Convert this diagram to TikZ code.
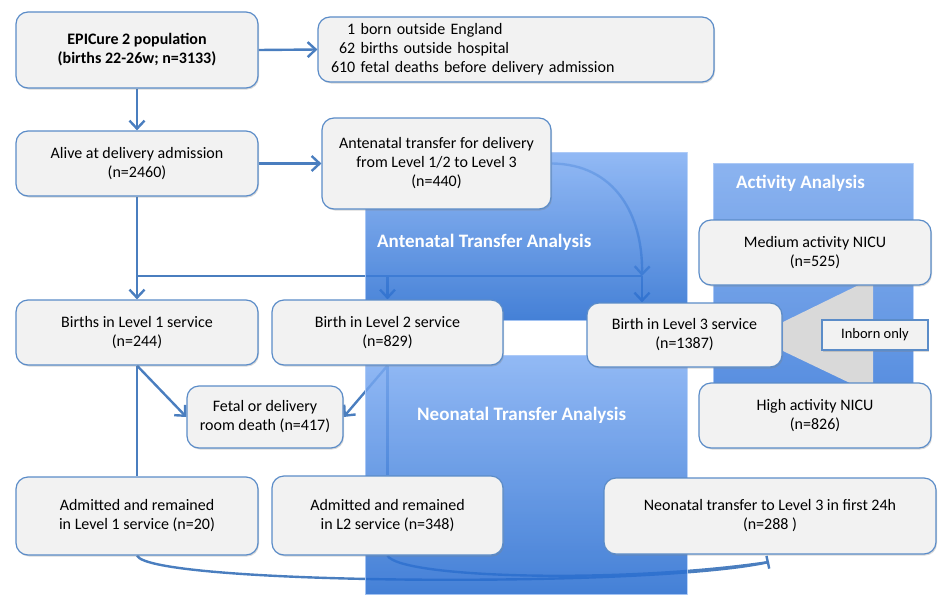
\documentclass[tikz,border=0pt]{standalone}
\usepackage{fontspec}
\setmainfont{Carlito}
\usetikzlibrary{arrows.meta,shadows}

\definecolor{boxline}{HTML}{5B8CC8}
\definecolor{boxfill}{HTML}{F2F2F2}
\definecolor{flowline}{HTML}{4A7EBF}
\definecolor{wedge}{HTML}{D9D9D9}
\definecolor{paneltop}{HTML}{7FADF3}
\definecolor{panelbot}{HTML}{246ACF}
\definecolor{acttop}{HTML}{77A6ED}
\definecolor{actbot}{HTML}{3C7CDB}

\pgfdeclarelayer{lines}
\pgfdeclarelayer{panels}
\pgfsetlayers{lines,panels,main}

\tikzset{fbox/.style = {shape = rectangle,
                        rounded corners = 12pt,
                        draw = boxline,
                        fill = boxfill,
                        line width = 1.2pt,
                        align = center,
                        inner sep = 2pt,
                        font = \fontsize{16}{19}\selectfont,
                        drop shadow = {shadow xshift = 1pt,
                                       shadow yshift = -1.5pt,
                                       opacity = 0.3}}}

\begin{document}
\begin{tikzpicture}[x=1pt, y=-1pt,
                    flow/.style = {draw = flowline,
                                   line width = 2.4pt},
                    arrow/.style = {-{Straight Barb[length=8pt,width=15pt]}},
                    panel/.style = {draw = paneltop!60,
                                    line width = 0.8pt,
                                    opacity = 0.85},
                    ptitle/.style = {text = white,
                                     anchor = west,
                                     inner sep = 0pt,
                                     font = \bfseries\fontsize{19}{22}\selectfont}]
	\useasboundingbox (0,0) rectangle (941,594);

	% grey wedge behind the activity boxes
	\fill[wedge] (783,322) -- (873,278) -- (873,394) -- (783,351) -- cycle;

	% boxes
	\node[fbox, minimum width = 242pt, minimum height = 76pt] (pop) at (137,50)
		{\bfseries EPICure 2 population\\\bfseries (births 22-26w; n=3133)};
	\node[fbox, minimum width = 396pt, minimum height = 65pt,
	      text width = 370pt, inner xsep = 13pt, align = left] (excl) at (516,49.5)
		{\phantom{00}1 born outside England\\
		 \phantom{0}62 births outside hospital\\
		 610 fetal deaths before delivery admission};
	\node[fbox, minimum width = 242pt, minimum height = 65pt] (alive) at (137,163.5)
		{Alive at delivery admission\\(n=2460)};
	\node[fbox, minimum width = 229pt, minimum height = 91pt] (ante) at (436.5,163.5)
		{Antenatal transfer for delivery\\from Level 1/2 to Level 3\\(n=440)};
	\node[fbox, minimum width = 242pt, minimum height = 65pt] (lone) at (137,332.5)
		{Births in Level 1 service\\(n=244)};
	\node[fbox, minimum width = 231pt, minimum height = 65pt] (ltwo) at (387.5,332.5)
		{Birth in Level 2 service\\(n=829)};
	\node[fbox, minimum width = 195pt, minimum height = 64pt] (lthree) at (684.5,335)
		{Birth in Level 3 service\\(n=1387)};
	\node[fbox, minimum width = 156pt, minimum height = 62pt] (fetal) at (265,417)
		{Fetal or delivery\\room death (n=417)};
	\node[fbox, minimum width = 242pt, minimum height = 78pt] (remone) at (137,516)
		{Admitted and remained\\in Level 1 service (n=20)};
	\node[fbox, minimum width = 231pt, minimum height = 79pt] (remtwo) at (387.5,515.5)
		{Admitted and remained\\in L2 service (n=348)};
	\node[fbox, minimum width = 332pt, minimum height = 76pt] (neo) at (770,516)
		{Neonatal transfer to Level 3 in first 24h\\(n=288 )};
	\node[fbox, minimum width = 232pt, minimum height = 65pt] (medium) at (815,252.5)
		{Medium activity NICU\\(n=525)};
	\node[fbox, minimum width = 232pt, minimum height = 65pt] (high) at (815,415.5)
		{High activity NICU\\(n=826)};
	\node[fbox, rounded corners = 0pt, minimum width = 106pt, minimum height = 30pt,
	      font = \fontsize{14.5}{17}\selectfont] (inborn) at (875,335) {Inborn only};

	\coordinate (hjoin) at (642,276);
	\coordinate (neoin) at (769,562);

	% shaded analysis panels
	\begin{pgfonlayer}{panels}
		\shade[panel, top color = paneltop, bottom color = panelbot]
			(365,152) rectangle (687,320);
		\shade[panel, top color = paneltop, bottom color = panelbot]
			(365,355) rectangle (687,594);
		\shade[panel, top color = acttop, bottom color = actbot]
			(713,163) rectangle (913,383);
		\node[ptitle] (antetitle) at (377,242) {Antenatal Transfer Analysis};
		\node[ptitle] (neotitle) at (417,415) {Neonatal Transfer Analysis};
		\node[ptitle] (acttitle) at (736,183) {Activity Analysis};
	\end{pgfonlayer}

	% connectors
	\begin{pgfonlayer}{lines}
		\draw[flow, arrow] (pop) -- (alive);
		\draw[flow, arrow] (pop.east) -- (excl.west);
		\draw[flow, arrow] (alive.east) -- (ante.west);
		\draw[flow, arrow] (alive) -- (lone);
		\draw[flow] (alive.south |- hjoin) -- (hjoin);
		\draw[flow, arrow] (ante.east) .. controls (615,164) and (643,215) .. (hjoin);
		\draw[flow, arrow] (ltwo.north |- hjoin) -- (ltwo.north);
		\draw[flow, arrow] (hjoin) -- (hjoin |- lthree.north);
		\draw[flow, arrow] (lone.south) -- (fetal.west);
		\draw[flow, arrow] (ltwo.south) -- (fetal.east);
		\draw[flow] (lone) -- (remone);
		\draw[flow] (ltwo) -- (remtwo);
		\draw[flow, -{Bar[width=13pt]}] (remone.south) .. controls (150,585) and (650,588) .. (neoin);
		\draw[flow] (remtwo.south) .. controls (400,578) and (620,584) .. (neoin);
	\end{pgfonlayer}
\end{tikzpicture}
\end{document}
